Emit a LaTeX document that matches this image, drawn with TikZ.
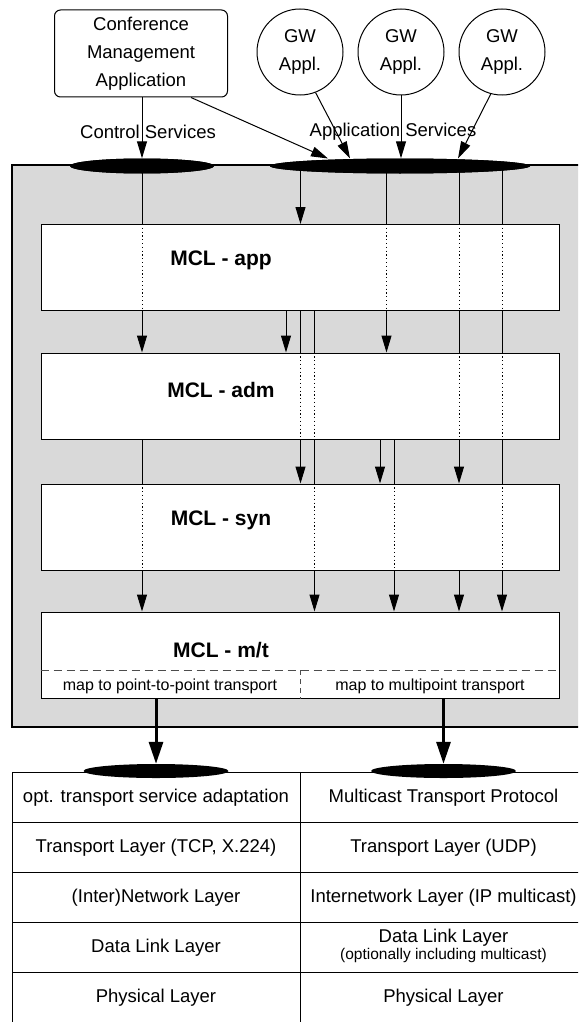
\documentclass[tikz,border=0pt]{standalone}
\usepackage{fontspec}
\setmainfont{Liberation Sans}
\usetikzlibrary{arrows.meta,calc,shapes.geometric}
\definecolor{bg}{RGB}{217,217,217}
\tikzset{
  ln/.style={line width=1pt},
  arr/.style={line width=1pt,-{Triangle[length=17pt,width=10pt]}},
  bigarr/.style={line width=3pt,-{Triangle[length=22pt,width=14pt]}},
  dots/.style={line width=1pt,dash pattern=on 1.2pt off 2.6pt},
  layerbox/.style={draw,line width=1pt,fill=white,minimum width=518pt,minimum height=86pt,inner sep=0pt},
  svc/.style={ellipse,fill=black,inner sep=0pt},
  lbl/.style={font=\fontsize{18.5}{28}\selectfont,align=center,inner sep=0pt},
  small/.style={font=\fontsize{15.5}{18}\selectfont,align=center,inner sep=0pt},
  mapt/.style={font=\fontsize{16}{18}\selectfont,inner sep=0pt},
  mcl/.style={font=\fontsize{21}{25}\selectfont\bfseries,inner sep=0pt},
  gw/.style={circle,draw,line width=1pt,minimum size=86pt,inner sep=0pt,align=center,font=\fontsize{18.5}{28}\selectfont},
}
\begin{document}
\begin{tikzpicture}[x=1pt,y=-1pt]
\useasboundingbox (0,0) rectangle (578,1022);
\clip (0,0) rectangle (578,1022);

% column coordinates
\coordinate (cA) at (142,0);
\coordinate (cB) at (286,0);
\coordinate (cC) at (300.5,0);
\coordinate (cD) at (314.5,0);
\coordinate (cE) at (380,0);
\coordinate (cF) at (386.5,0);
\coordinate (cG) at (394,0);
\coordinate (cH) at (459,0);
\coordinate (cI) at (502,0);

% top applications
\node[draw,line width=1pt,rounded corners=6pt,minimum width=173pt,minimum height=87pt,
      lbl] (cm) at (141,53.5) {Conference\\Management\\Application};
\node[gw] (g1) at (300,52) {GW\\Appl.};
\node[gw] (g2) at (401,52) {GW\\Appl.};
\node[gw] (g3) at (502,52) {GW\\Appl.};

% gray MCL frame
\draw[line width=2.5pt,fill=bg] (12,165) rectangle (590,727);

% layers
\node[layerbox] (app) at (300,267.5) {};
\node[layerbox] (adm) at (300,396) {};
\node[layerbox] (syn) at (300,527) {};
\node[layerbox] (mt)  at (300,655) {};

\node[mcl] (tapp) at (221,260) {MCL - app};
\node[mcl] (tadm) at (221,390) {MCL - adm};
\node[mcl] (tsyn) at (221,520) {MCL - syn};
\node[mcl] (tmt)  at (221,650) {MCL - m/t};

\draw[line width=1pt,gray!60!black,dash pattern=on 8pt off 5pt] (mt.west |- 0,670) -- (mt.east |- 0,670);
\draw[line width=1pt,gray!60!black,dash pattern=on 5pt off 4pt] (cC |- 0,670) -- (mt.south -| cC);
\node[mapt] (mp1) at (170,686) {map to point-to-point transport};
\node[mapt] (mp2) at (430,686) {map to multipoint transport};

% service access ellipses (top)
\node[svc,minimum width=144pt,minimum height=15pt] (e1) at (142,166) {};
\node[svc,minimum width=260pt,minimum height=15pt] (e2) at (400,166) {};

% into app
\draw[ln] (e1.center -| cA) -- (app.north -| cA);
\draw[arr] (e2.center -| cC) -- (app.north -| cC);
\foreach \c in {cF,cH,cI} \draw[ln] (e2.center -| \c) -- (app.north -| \c);
\foreach \c in {cA,cF,cH,cI} \draw[dots] (app.north -| \c) -- (app.south -| \c);

% app -> adm
\foreach \c in {cA,cB,cF} \draw[arr] (app.south -| \c) -- (adm.north -| \c);
\foreach \c in {cC,cD,cH,cI} \draw[ln] (app.south -| \c) -- (adm.north -| \c);
\foreach \c in {cC,cD,cH,cI} \draw[dots] (adm.north -| \c) -- (adm.south -| \c);

% adm -> syn
\foreach \c in {cC,cE,cH} \draw[arr] (adm.south -| \c) -- (syn.north -| \c);
\foreach \c in {cA,cD,cG,cI} \draw[ln] (adm.south -| \c) -- (syn.north -| \c);
\foreach \c in {cA,cD,cG,cI} \draw[dots] (syn.north -| \c) -- (syn.south -| \c);

% syn -> m/t
\foreach \c in {cA,cD,cG,cH,cI} \draw[arr] (syn.south -| \c) -- (mt.north -| \c);

% redraw ellipses on top
\node[svc,minimum width=144pt,minimum height=15pt] at (e1) {};
\node[svc,minimum width=260pt,minimum height=15pt] at (e2) {};

% arrows from applications
\coordinate (p1) at (328,158.5);
\coordinate (p2) at (350,158.5);
\coordinate (p3) at (458,158.5);
\draw[arr] (cm.south -| e1) -- (e1.north);
\draw[arr] ([xshift=-37pt]cm.south east) -- (p1);
\draw[arr] (g1.291.8) -- (p2);
\draw[arr] (g2.south) -- (e2.north -| g2);
\draw[arr] (g3.255) -- (p3);

\node[lbl] (cs) at (148,132) {Control Services};
\node[lbl] (as) at (393,132) {Application Services};

% lower protocol table
\draw[ln] (12,772) -- (590,772);
\foreach \y in {822,872,922,972} \draw[ln] (12,\y) -- (590,\y);
\draw[ln] (12,772) -- (12,1030);
\draw[ln] (300.5,772) -- (300.5,1030);

\node[svc,minimum width=145pt,minimum height=14pt] (f1) at (156,771) {};
\node[svc,minimum width=145pt,minimum height=14pt] (f2) at (443.5,771) {};
\draw[bigarr] (mt.south -| f1) -- (f1.north);
\draw[bigarr] (mt.south -| f2) -- (f2.north);

\node[lbl] (l1) at (156,798) {opt. transport service adaptation};
\node[lbl] (l2) at (156,848) {Transport Layer (TCP, X.224)};
\node[lbl] (l3) at (156,898) {(Inter)Network Layer};
\node[lbl] (l4) at (156,948) {Data Link Layer};
\node[lbl] (l5) at (156,998) {Physical Layer};
\node[lbl] (r1) at (443.5,798) {Multicast Transport Protocol};
\node[lbl] (r2) at (443.5,848) {Transport Layer (UDP)};
\node[lbl] (r3) at (443.5,898) {Internetwork Layer (IP multicast)};
\node[lbl] (r4) at (443.5,938) {Data Link Layer};
\node[small] (r4b) at (443.5,955) {(optionally including multicast)};
\node[lbl] (r5) at (443.5,998) {Physical Layer};
\end{tikzpicture}
\end{document}
